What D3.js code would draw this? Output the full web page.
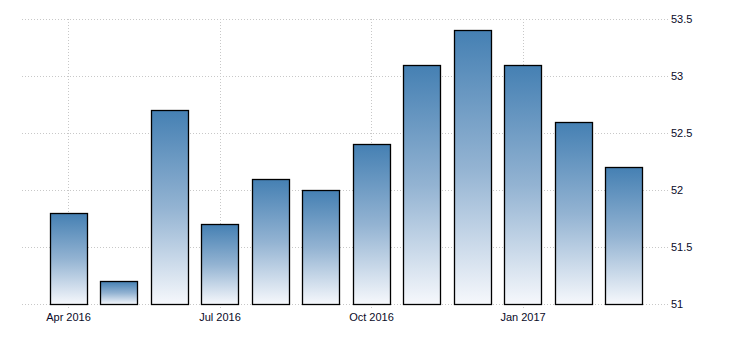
<!DOCTYPE html>
<html>
<head>
<meta charset="utf-8">
<script src="https://cdn.jsdelivr.net/npm/d3@7"></script>
<style>
  body { margin: 0; background: #fff; }
  .grid line { stroke: #c8c8c8; stroke-dasharray: 1,2; }
  .axis text { font-family: "Liberation Sans", Arial, sans-serif; font-size: 11px; fill: #0a0a28; }
</style>
</head>
<body>
<div id="chart"></div>
<script>
//chart data
var months = ["Apr 2016", "May 2016", "Jun 2016", "Jul 2016", "Aug 2016", "Sep 2016",
  "Oct 2016", "Nov 2016", "Dec 2016", "Jan 2017", "Feb 2017", "Mar 2017"];
var values = [51.8, 51.2, 52.7, 51.7, 52.1, 52.0, 52.4, 53.1, 53.4, 53.1, 52.6, 52.2];
var xTickLabels = ["Apr 2016", "Jul 2016", "Oct 2016", "Jan 2017"];
var yTicks = [51, 51.5, 52, 52.5, 53, 53.5];

//svg size
var svgWidth = 730;
var svgHeight = 340;

var svg = d3.select("#chart")
  .append("svg")
  .attr("width", svgWidth)
  .attr("height", svgHeight);

//gradient for bars
var grad = svg.append("defs").append("linearGradient")
  .attr("id", "barGrad")
  .attr("x1", 0).attr("y1", 0).attr("x2", 0).attr("y2", 1);
grad.append("stop").attr("offset", "0%").attr("stop-color", "#4580b3");
grad.append("stop").attr("offset", "50%").attr("stop-color", "#93b3d2");
grad.append("stop").attr("offset", "100%").attr("stop-color", "#f6f8fc");

//scales
var xScale = d3.scaleBand()
  .domain(months)
  .range([43.25, 649.25])
  .paddingInner(0.267)
  .paddingOuter(0.1335);

var yScale = d3.scaleLinear()
  .domain([51, 53.5])
  .range([304, 19]);

//horizontal grid
svg.append("g")
  .attr("class", "grid")
  .selectAll("line")
  .data(yTicks)
  .enter()
  .append("line")
  .attr("x1", 22)
  .attr("x2", 669)
  .attr("y1", d => Math.round(yScale(d)) + 0.5)
  .attr("y2", d => Math.round(yScale(d)) + 0.5);

//vertical grid at quarter labels
svg.append("g")
  .attr("class", "grid")
  .selectAll("line")
  .data(xTickLabels)
  .enter()
  .append("line")
  .attr("x1", d => Math.round(xScale(d) + xScale.bandwidth() / 2) + 0.5)
  .attr("x2", d => Math.round(xScale(d) + xScale.bandwidth() / 2) + 0.5)
  .attr("y1", yScale(53.5))
  .attr("y2", 309);

//bars
svg.append("g")
  .selectAll("rect")
  .data(values)
  .enter()
  .append("rect")
  .attr("x", (d, i) => Math.round(xScale(months[i])) + 0.5)
  .attr("y", d => Math.round(yScale(d)) + 0.5)
  .attr("width", Math.round(xScale.bandwidth()))
  .attr("height", d => Math.round(yScale(51)) - Math.round(yScale(d)))
  .attr("fill", "url(#barGrad)")
  .attr("stroke", "#000")
  .attr("stroke-width", 1.3);

//x axis labels
var xAxis = d3.axisBottom(xScale)
  .tickValues(xTickLabels)
  .tickSize(0)
  .tickPadding(9);

svg.append("g")
  .attr("class", "axis")
  .attr("transform", `translate(0, ${yScale(51)})`)
  .call(xAxis)
  .call(g => g.select(".domain").remove());

//y axis on right
var yAxis = d3.axisRight(yScale)
  .tickValues(yTicks)
  .tickSize(0)
  .tickPadding(2)
  .tickFormat(d3.format("~g"));

svg.append("g")
  .attr("class", "axis")
  .attr("transform", "translate(669, 0)")
  .call(yAxis)
  .call(g => g.select(".domain").remove());
</script>
</body>
</html>
